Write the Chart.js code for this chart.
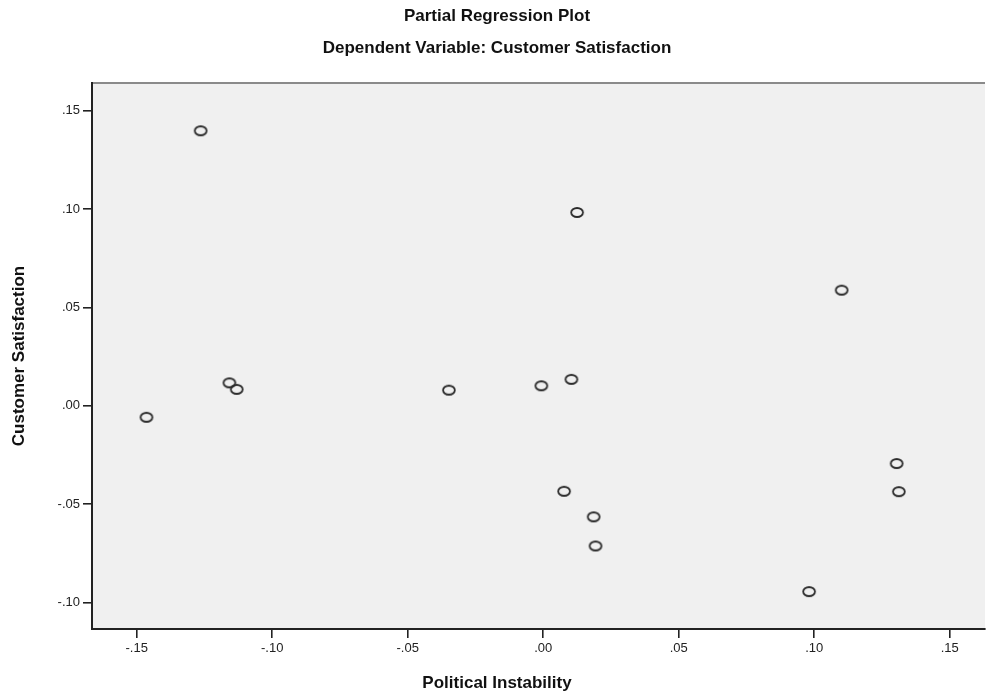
<!DOCTYPE html>
<html>
<head>
<meta charset="utf-8">
<script src="https://cdn.jsdelivr.net/npm/chart.js@4.4.0/dist/chart.umd.min.js"></script>
<style>
  html, body { margin: 0; padding: 0; background: #fff; }
</style>
</head>
<body>
<canvas id="chart" width="992" height="698"></canvas>
<script>
// partial residuals
const instability = [-0.1264, -0.1464, -0.1158, -0.1131, -0.0348, -0.0007, 0.0104, 0.0125,
                     0.0077, 0.0186, 0.0193, 0.1101, 0.1304, 0.1312, 0.0981];
const satisfaction = [0.1397, -0.0059, 0.0116, 0.0083, 0.0079, 0.0101, 0.0134, 0.0982,
                      -0.0435, -0.0565, -0.0713, 0.0587, -0.0294, -0.0437, -0.0945];

const xTicks = [-0.15, -0.10, -0.05, 0, 0.05, 0.10, 0.15];
const yTicks = [-0.10, -0.05, 0, 0.05, 0.10, 0.15];

const titleLines = ['Partial Regression Plot', 'Dependent Variable: Customer Satisfaction'];
const xTitle = 'Political Instability';
const yTitle = 'Customer Satisfaction';

const FONT = '"Liberation Sans", Arial, sans-serif';
const INK = '#222';

function fmt(v) {
    const s = Math.abs(v).toFixed(2).replace(/^0/, '');
    return v < -1e-9 ? '-' + s : s;
}

// small open ellipse like the SPSS marker
function makeMarker() {
    const c = document.createElement('canvas');
    c.width = 16; c.height = 13;
    const g = c.getContext('2d');
    g.strokeStyle = '#2a2a2a';
    g.lineWidth = 1.8;
    g.beginPath();
    g.ellipse(8, 6.5, 5.9, 4.5, 0, 0, Math.PI * 2);
    g.stroke();
    return c;
}

const frame = {
    id: 'frame',
    beforeDraw(chart) {
        const { ctx, chartArea: a } = chart;
        ctx.save();
        ctx.fillStyle = '#f0f0f0';
        ctx.fillRect(a.left, a.top, a.right - a.left, a.bottom - a.top);
        ctx.strokeStyle = '#8a8a8a';
        ctx.lineWidth = 2;
        ctx.beginPath();
        ctx.moveTo(a.left, a.top);
        ctx.lineTo(a.right, a.top);
        ctx.stroke();
        ctx.restore();
    },
    afterDraw(chart) {
        const { ctx, chartArea: a } = chart;
        ctx.save();
        ctx.fillStyle = '#111';
        ctx.textAlign = 'center';
        ctx.textBaseline = 'middle';
        ctx.font = 'bold 17px ' + FONT;
        ctx.fillText(titleLines[0], 497, 16);
        ctx.fillText(titleLines[1], 497, 48);
        ctx.font = 'bold 17px ' + FONT;
        ctx.fillText(xTitle, 497, 683);
        ctx.translate(19, (a.top + a.bottom) / 2);
        ctx.rotate(-Math.PI / 2);
        ctx.fillText(yTitle, 0, 0);
        ctx.restore();
    }
};

const axisCommon = {
    type: 'linear',
    grid: { drawOnChartArea: false, drawTicks: true, tickLength: 9, color: INK, lineWidth: 1.6 },
    border: { display: true, color: INK, width: 2 },
    title: { display: false }
};

new Chart(document.getElementById('chart'), {
    type: 'scatter',
    data: {
        datasets: [{
            data: instability.map((x, i) => ({ x: x, y: satisfaction[i] })),
            pointStyle: makeMarker(),
            pointRadius: 6
        }]
    },
    options: {
        responsive: false,
        animation: false,
        layout: { padding: { top: 83, right: 1, left: 0, bottom: 0 } },
        plugins: { legend: { display: false }, tooltip: { enabled: false } },
        scales: {
            x: Object.assign({}, axisCommon, {
                position: 'bottom',
                min: -0.1665,
                max: 0.163,
                afterBuildTicks: s => { s.ticks = xTicks.map(v => ({ value: v })); },
                afterFit: s => { s.height = 69; },
                ticks: { color: INK, font: { family: FONT, size: 13 }, padding: 3, maxRotation: 0, callback: fmt }
            }),
            y: Object.assign({}, axisCommon, {
                position: 'left',
                min: -0.1135,
                max: 0.164,
                afterBuildTicks: s => { s.ticks = yTicks.map(v => ({ value: v })); },
                afterFit: s => { s.width = 92; },
                ticks: { color: INK, font: { family: FONT, size: 13 }, padding: 3, callback: fmt }
            })
        }
    },
    plugins: [frame]
});
</script>
</body>
</html>
